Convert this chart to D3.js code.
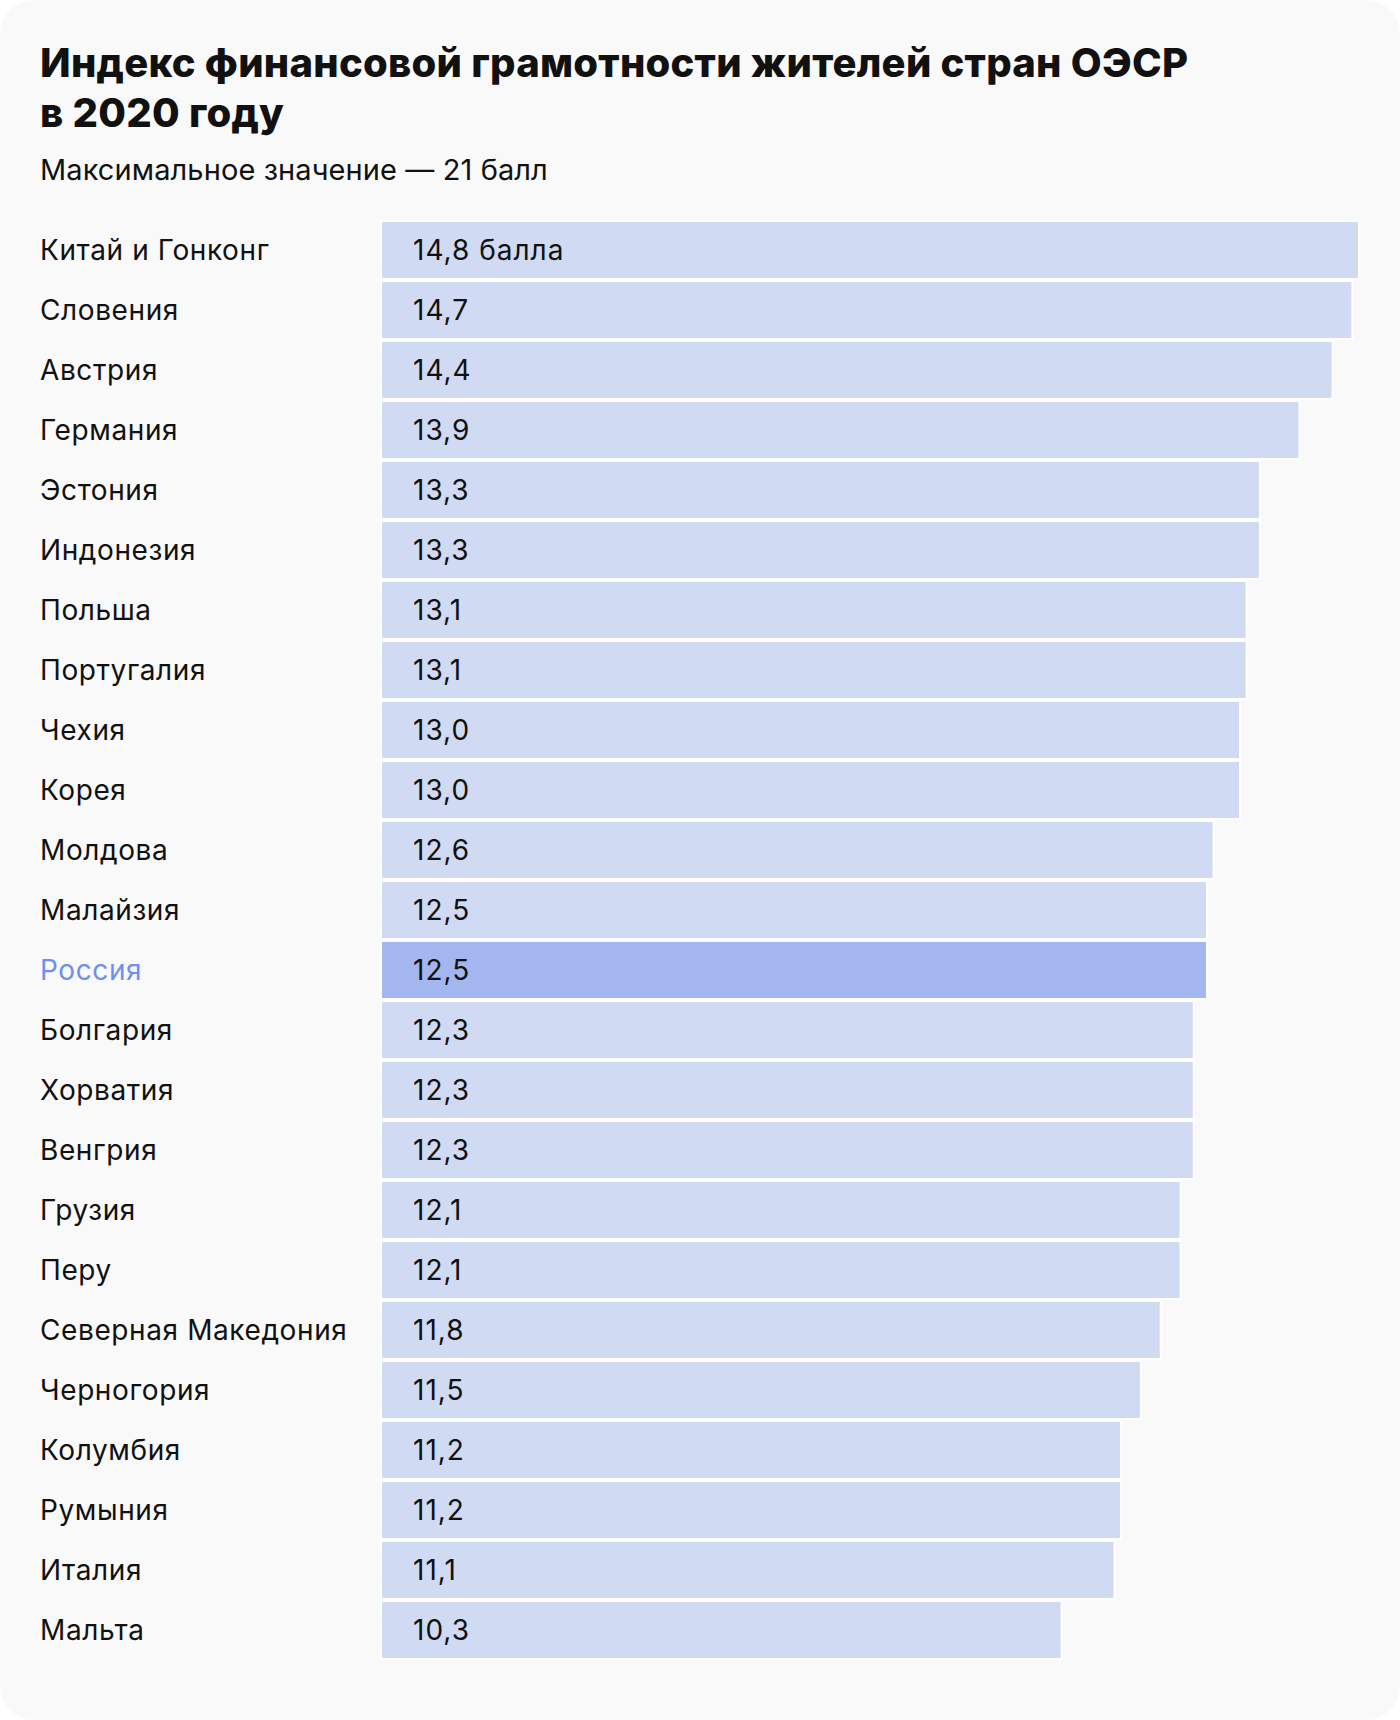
<!DOCTYPE html>
<html>
<head>
<meta charset="utf-8">
<script src="https://cdn.jsdelivr.net/npm/d3@7"></script>
<style>
  html, body { margin: 0; padding: 0; background: #ffffff; }
  svg { display: block; font-family: Inter, Roboto, "Noto Sans", sans-serif; }
</style>
</head>
<body>
<svg id="chart" width="1400" height="1720"></svg>
<script>
const countries = [
  'Китай и Гонконг', 'Словения', 'Австрия', 'Германия', 'Эстония', 'Индонезия',
  'Польша', 'Португалия', 'Чехия', 'Корея', 'Молдова', 'Малайзия', 'Россия',
  'Болгария', 'Хорватия', 'Венгрия', 'Грузия', 'Перу', 'Северная Македония',
  'Черногория', 'Колумбия', 'Румыния', 'Италия', 'Мальта'
];
const scores = [
  14.8, 14.7, 14.4, 13.9, 13.3, 13.3,
  13.1, 13.1, 13.0, 13.0, 12.6, 12.5, 12.5,
  12.3, 12.3, 12.3, 12.1, 12.1, 11.8,
  11.5, 11.2, 11.2, 11.1, 10.3
];
const highlight = 'Россия';
const titleLines = ['Индекс финансовой грамотности жителей стран ОЭСР', 'в 2020 году'];
const subtitle = 'Максимальное значение — 21 балл';

const svg = d3.select('#chart');
const W = 1400, H = 1720;

// card background
svg.append('rect')
  .attr('x', 0).attr('y', 0)
  .attr('width', W).attr('height', H)
  .attr('rx', 34)
  .attr('fill', '#f9f9f9');

// title
svg.append('text')
  .attr('x', 40).attr('y', 77)
  .attr('font-size', 40)
  .attr('font-weight', 800)
  .attr('letter-spacing', 0.25)
  .attr('fill', '#111')
  .selectAll('tspan')
  .data(titleLines)
  .join('tspan')
  .attr('x', 40)
  .attr('dy', (d, i) => i === 0 ? 0 : 50)
  .text(d => d);

svg.append('text')
  .attr('x', 40).attr('y', 180)
  .attr('font-size', 29)
  .attr('letter-spacing', 0.1)
  .attr('fill', '#111')
  .text(subtitle);

const rows = countries.map((c, i) => ({ name: c, value: scores[i] }));

const x = d3.scaleLinear().domain([0, 14.8]).range([381, 1359]);
const y = d3.scaleBand().domain(countries).range([220, 1660]).padding(0);

const fmt = v => d3.format('.1f')(v).replace('.', ',');

const row = svg.append('g').selectAll('g')
  .data(rows)
  .join('g');

row.append('rect')
  .attr('x', x(0))
  .attr('y', d => y(d.name) + 1)
  .attr('width', d => x(d.value) - x(0))
  .attr('height', y.bandwidth() - 2)
  .attr('fill', d => d.name === highlight ? '#a4b6ef' : '#d0daf3')
  .attr('stroke', '#ffffff')
  .attr('stroke-width', 2);

row.append('text')
  .attr('x', 40)
  .attr('y', d => y(d.name) + y.bandwidth() / 2)
  .attr('dy', '0.36em')
  .attr('font-size', 28)
  .attr('letter-spacing', 0.6)
  .attr('fill', d => d.name === highlight ? '#6f8ff0' : '#111')
  .text(d => d.name);

row.append('text')
  .attr('x', x(0) + 32)
  .attr('y', d => y(d.name) + y.bandwidth() / 2)
  .attr('dy', '0.36em')
  .attr('font-size', 28)
  .attr('letter-spacing', 1)
  .attr('fill', '#111')
  .text((d, i) => i === 0 ? fmt(d.value) + ' балла' : fmt(d.value));
</script>
</body>
</html>
